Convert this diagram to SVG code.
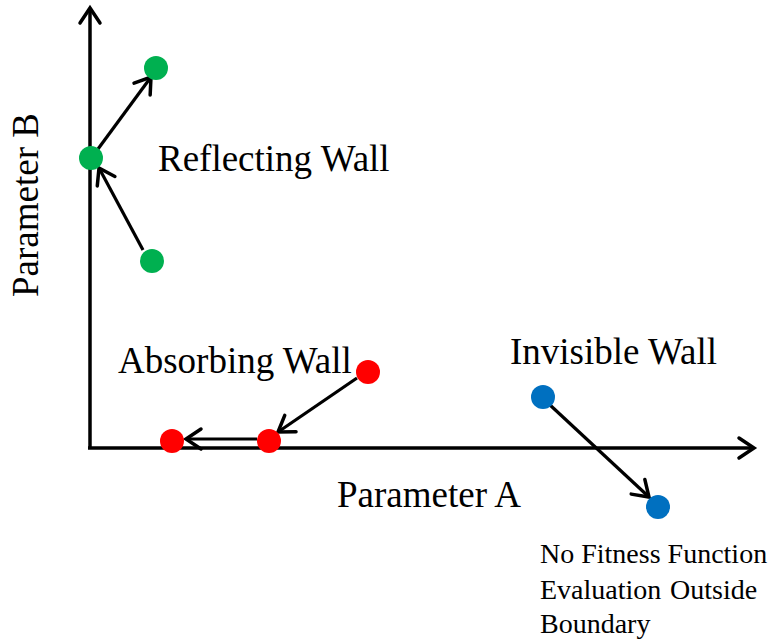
<svg xmlns="http://www.w3.org/2000/svg" width="772" height="640" viewBox="0 0 772 640">
<defs>
<marker id="ah" markerUnits="userSpaceOnUse" markerWidth="40" markerHeight="40" viewBox="-20 -20 40 40" refX="0" refY="0" orient="auto" overflow="visible">
<path d="M-15,-10 L0,0 L-15,10" fill="none" stroke="#000" stroke-width="3.5" stroke-linecap="round" stroke-linejoin="miter"/>
</marker>
</defs>
<style>
.ax{stroke:#000;stroke-width:3.5;fill:none}
.ar{stroke:#000;stroke-width:3.2;fill:none;marker-end:url(#ah)}
.t{font-family:"Liberation Serif","Times New Roman",serif;fill:#000}
.big{font-size:37px}
.sm{font-size:28px}
.g{fill:#00B050}.r{fill:#FF0000}.b{fill:#0070C0}
</style>
<g id="axes">
<path class="ax" d="M90,449 L90,8" style="marker-end:url(#ah)"/>
<path class="ax" d="M88,448 L754,448" style="marker-end:url(#ah)"/>
</g>
<g id="connectors">
<path class="ar" d="M98,149 L151,77"/>
<path class="ar" d="M143,250 L99,168"/>
<path class="ar" d="M357,378 L278,432"/>
<path class="ar" d="M257,439 L186,439"/>
<path class="ar" d="M550,405 L649,497"/>
</g>
<g id="green-top"><circle class="g" cx="156" cy="68" r="12"/></g>
<g id="green-mid"><circle class="g" cx="91" cy="158" r="12"/></g>
<g id="green-bot"><circle class="g" cx="152" cy="261" r="12"/></g>
<g id="red-top"><circle class="r" cx="368" cy="372" r="12"/></g>
<g id="red-mid"><circle class="r" cx="269" cy="441" r="12"/></g>
<g id="red-left"><circle class="r" cx="172" cy="441" r="12"/></g>
<g id="blue-top"><circle class="b" cx="543" cy="397" r="12"/></g>
<g id="blue-bot"><circle class="b" cx="658" cy="507" r="12"/></g>
<g id="labels">
<text class="t big" x="158" y="171">Reflecting Wall</text>
<text class="t big" x="118" y="373">Absorbing Wall</text>
<text class="t big" x="510" y="364">Invisible Wall</text>
<text class="t big" x="337" y="507">Parameter A</text>
<text class="t big" transform="translate(38,297) rotate(-90)">Parameter B</text>
<text class="t sm" x="540" y="563">No Fitness Function</text>
<text class="t sm" x="540" y="599">Evaluation</text>
<text class="t sm" x="670" y="599">Outside</text>
<text class="t sm" x="540" y="633">Boundary</text>
</g>
</svg>
